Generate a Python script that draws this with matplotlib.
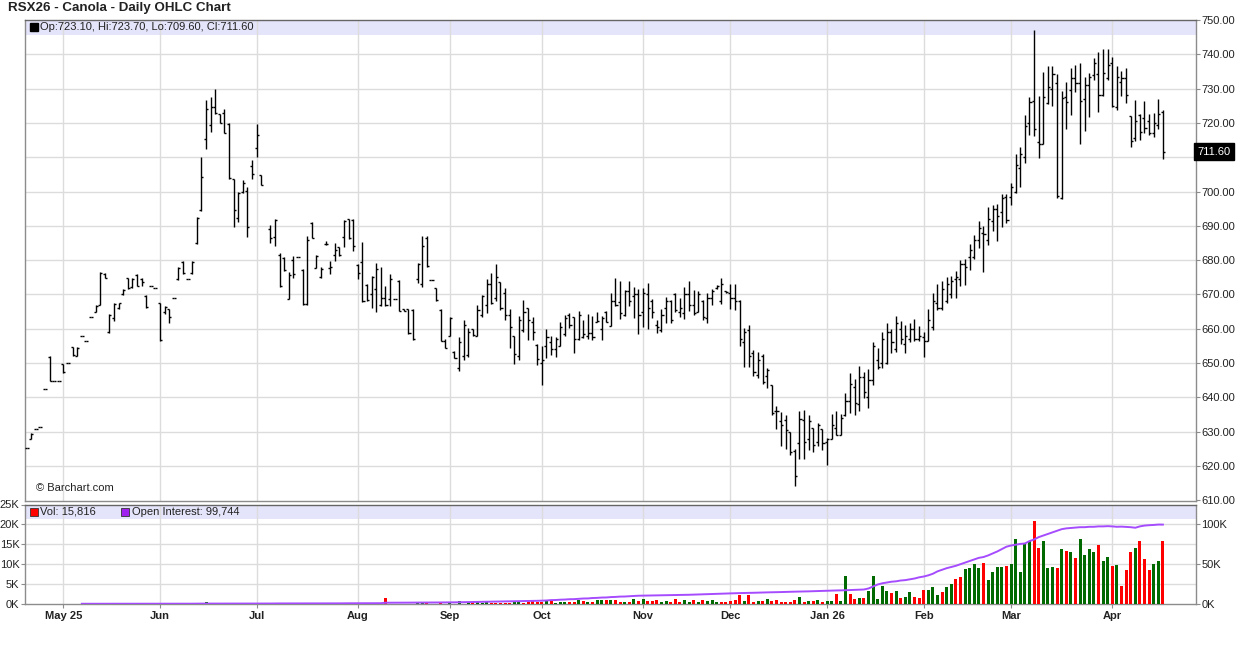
import numpy as np
import pandas as pd
import matplotlib
matplotlib.use("Agg")
import matplotlib.pyplot as plt
import matplotlib.transforms as mtransforms
from matplotlib.collections import LineCollection

"""
RSX26 - Canola - Daily OHLC Chart
Price bars on top, volume bars and open interest line below.
"""

# Trading calendar of the chart (ICE canola, Canadian holidays)
start_day = "2025-04-21"
end_day = "2026-04-17"
holidays = ["2025-05-19", "2025-07-01", "2025-08-04", "2025-09-01", "2025-09-30",
            "2025-10-13", "2025-11-11", "2025-12-25", "2025-12-26", "2026-01-01",
            "2026-02-16", "2026-04-03"]

nan = float("nan")

# Daily prices, one value per trading day
open_ = [
    625.3, 628.0, 630.7, 631.3, 642.4, 651.8, 644.8, 644.8, 649.6, 650.1,
    654.6, 652.2, 657.9, 656.4, 663.3, 665.0, 667.0, 676.0, 659.2, 663.0,
    666.0, 670.0, 674.8, 672.2, 675.8, 674.5, 669.6, 672.4, 671.8, 667.4,
    665.0, 665.8, 668.9, 674.4, 679.5, 674.4, 676.2, 685.0, 694.5, 715.2,
    719.4, 724.7, 722.6, 722.8, 719.8, 703.8, 692.2, 700.0, 700.1, 707.5,
    712.6, 704.8, nan, 689.0, 686.8, 681.5, 680.7, 668.8, 680.0, 680.8,
    677.0, 667.2, 690.7, 677.8, 675.0, 684.6, 677.8, 681.5, 683.8, 686.7,
    692.0, 691.6, 678.5, 679.5, 672.8, 670.0, 671.5, 667.0, 669.0, 668.6,
    668.6, 674.0, 665.8, 665.7, 665.6, 674.5, 673.0, 686.5, 674.2, 672.0,
    665.5, 656.5, 658.0, 653.3, 648.5, 652.0, 652.5, 660.0, 658.0, 664.0,
    667.0, 673.0, 669.0, 673.5, 670.5, 664.0, 657.8, 652.0, 659.5, 666.0,
    662.0, 655.3, 650.0, 655.0, 656.0, 654.0, 655.0, 658.5, 664.0, 663.5,
    657.0, 657.5, 658.0, 658.7, 662.0, 660.0, 665.0, 660.8, 668.0, 667.8,
    664.0, 671.0, 669.5, 670.0, 665.0, 670.0, 668.0, 661.0, 659.5, 666.0,
    668.0, 670.0, 665.0, 664.5, 670.0, 667.0, 665.0, 668.0, 663.0, 669.0,
    672.0, 668.0, 671.0, 670.5, 669.0, 668.0, 656.0, 659.5, 653.0, 646.5,
    652.0, 646.3, 643.5, 636.0, 633.0, 633.5, 630.0, 624.5, 626.8, 633.5,
    628.0, 631.0, 627.0, 630.8, 627.0, 628.0, 631.0, 629.0, 635.0, 639.0,
    643.0, 638.0, 646.0, 640.0, 645.0, 651.0, 650.0, 650.0, 659.0, 654.0,
    660.0, 655.5, 657.0, 660.0, 657.0, 657.5, 656.5, 660.5, 667.5, 666.0,
    668.0, 670.0, 674.5, 674.5, 679.0, 681.0, 681.0, 686.0, 688.0, 686.0,
    691.5, 695.0, 694.0, 698.5, 698.4, 700.0, 707.0, 710.0, 720.0, 726.3,
    714.5, 714.0, 725.7, 729.8, 731.7, 698.0, 727.5, 729.5, 733.0, 731.5,
    727.0, 731.0, 734.0, 734.2, 728.0, 733.0, 737.5, 724.5, 732.0, 733.0,
    722.0, 715.5, 722.3, 721.5, 720.5, 717.0, 719.5, 723.1,
]
high = [
    625.3, 629.6, 630.7, 631.3, 642.4, 652.0, 644.8, 644.8, 649.6, 650.1,
    654.8, 654.8, 657.9, 656.4, 663.3, 666.9, 676.6, 676.2, 664.3, 667.6,
    667.6, 671.6, 674.9, 674.9, 676.0, 674.7, 669.8, 672.4, 671.8, 667.6,
    666.6, 665.9, 668.9, 678.1, 679.7, 674.4, 679.7, 692.5, 710.0, 726.7,
    727.5, 729.8, 722.6, 724.0, 719.9, 703.8, 699.9, 703.4, 701.2, 709.2,
    719.7, 704.8, nan, 690.2, 692.0, 682.2, 680.8, 676.5, 681.3, 680.8,
    677.4, 686.9, 691.0, 681.6, 677.9, 685.6, 679.8, 685.1, 683.9, 691.7,
    692.1, 691.9, 678.8, 685.3, 673.0, 675.4, 679.3, 678.0, 672.5, 676.1,
    668.6, 674.2, 665.8, 665.7, 665.7, 679.3, 686.9, 686.9, 674.2, 672.0,
    665.7, 657.0, 663.3, 653.4, 657.6, 662.6, 660.1, 660.0, 666.9, 669.9,
    674.4, 676.3, 679.0, 673.6, 671.8, 665.9, 658.0, 663.7, 668.4, 666.2,
    663.3, 655.7, 654.9, 660.0, 657.8, 657.5, 662.0, 664.0, 664.7, 663.5,
    665.1, 662.7, 664.2, 663.7, 664.9, 663.7, 665.1, 670.5, 674.9, 673.9,
    671.3, 673.9, 672.2, 671.5, 671.8, 673.2, 668.7, 662.7, 665.8, 669.3,
    668.5, 670.3, 669.0, 672.2, 673.9, 671.3, 671.0, 668.5, 670.5, 671.5,
    672.9, 674.9, 671.0, 673.0, 673.0, 668.5, 660.3, 661.0, 653.9, 653.2,
    652.6, 648.5, 643.5, 637.5, 635.7, 634.9, 630.0, 625.1, 636.0, 636.3,
    634.9, 631.2, 632.4, 630.9, 628.2, 635.1, 636.0, 635.1, 641.2, 647.2,
    645.3, 649.2, 647.4, 648.2, 656.0, 654.5, 659.1, 661.8, 659.9, 663.6,
    662.3, 661.0, 661.6, 662.8, 660.9, 659.1, 665.7, 670.4, 673.0, 674.0,
    675.0, 675.3, 676.8, 680.1, 680.4, 684.6, 687.2, 691.4, 689.9, 695.5,
    696.0, 696.5, 699.4, 699.2, 702.5, 710.8, 713.0, 722.2, 727.6, 747.0,
    727.8, 734.8, 736.6, 736.6, 734.2, 729.3, 731.8, 736.1, 736.9, 737.4,
    733.3, 734.5, 738.8, 740.6, 741.6, 741.6, 739.3, 736.7, 735.0, 735.9,
    722.1, 726.7, 722.5, 726.4, 722.5, 722.8, 727.0, 723.7,
]
low = [
    625.3, 627.8, 630.7, 631.3, 642.4, 644.8, 644.8, 644.8, 647.2, 650.1,
    652.0, 652.2, 657.9, 656.4, 663.3, 664.8, 666.9, 674.7, 658.9, 662.3,
    665.8, 669.8, 671.7, 672.0, 672.4, 672.5, 666.2, 672.4, 671.8, 656.5,
    664.4, 661.8, 668.9, 674.2, 676.0, 674.4, 676.0, 684.6, 694.3, 712.4,
    717.3, 722.6, 719.9, 717.0, 703.8, 689.7, 691.2, 699.5, 686.8, 703.8,
    710.0, 701.8, nan, 685.1, 684.2, 672.3, 676.9, 668.6, 674.9, 680.8,
    666.9, 666.9, 686.4, 677.6, 674.7, 684.5, 675.9, 679.8, 681.3, 683.7,
    686.3, 682.7, 674.5, 667.9, 668.2, 666.2, 665.0, 666.7, 666.7, 666.7,
    668.6, 665.1, 665.2, 658.6, 656.8, 673.3, 672.3, 677.9, 674.2, 668.2,
    656.3, 654.3, 657.8, 651.4, 647.8, 650.9, 651.7, 658.0, 657.8, 663.3,
    664.7, 667.2, 668.2, 665.5, 662.5, 654.4, 649.7, 650.9, 659.0, 656.8,
    656.8, 649.5, 643.5, 651.4, 652.4, 651.9, 654.9, 658.0, 660.3, 652.9,
    656.7, 657.3, 657.1, 656.8, 661.9, 656.7, 661.9, 660.7, 666.6, 662.9,
    663.7, 666.6, 663.2, 658.6, 660.6, 660.0, 663.2, 658.8, 659.0, 661.7,
    661.7, 664.8, 663.5, 662.9, 665.1, 663.9, 664.8, 662.7, 661.7, 666.8,
    671.5, 667.1, 670.5, 665.8, 665.6, 654.9, 648.9, 648.9, 646.1, 645.7,
    643.8, 642.6, 634.9, 630.9, 625.8, 625.0, 623.2, 614.1, 622.1, 622.1,
    624.6, 624.1, 625.8, 624.6, 620.4, 628.0, 628.9, 628.9, 634.6, 635.5,
    634.9, 636.0, 639.9, 637.0, 643.5, 648.2, 648.7, 649.7, 652.9, 653.3,
    655.5, 653.0, 656.0, 656.5, 656.5, 651.9, 656.5, 659.7, 665.4, 665.6,
    667.5, 669.1, 669.1, 672.4, 672.7, 677.0, 680.4, 683.6, 676.5, 684.3,
    688.5, 685.6, 689.7, 690.8, 696.0, 699.6, 701.3, 708.3, 716.4, 716.1,
    709.9, 713.9, 725.4, 724.8, 698.0, 697.9, 718.3, 722.3, 729.1, 713.8,
    717.7, 721.6, 732.5, 723.3, 727.9, 732.5, 724.5, 723.8, 727.9, 725.9,
    713.1, 714.8, 715.0, 717.0, 716.5, 716.0, 718.3, 709.6,
]
close = [
    625.3, 629.4, 630.7, 631.3, 642.4, 644.8, 644.8, 644.8, 647.5, 650.1,
    652.3, 654.5, 657.9, 656.4, 663.3, 666.7, 676.4, 674.8, 664.0, 667.2,
    667.4, 671.4, 672.0, 674.6, 672.6, 673.5, 666.4, 672.4, 671.8, 656.8,
    666.3, 663.5, 668.9, 677.8, 676.3, 674.4, 679.4, 692.2, 704.3, 724.0,
    724.5, 722.8, 720.1, 717.2, 704.0, 694.5, 699.6, 702.5, 689.8, 705.0,
    716.4, 701.8, nan, 686.5, 691.7, 672.5, 677.0, 675.8, 676.0, 680.8,
    667.2, 686.0, 686.6, 681.3, 677.5, 684.6, 678.0, 683.0, 681.4, 691.3,
    686.5, 684.0, 676.4, 668.2, 668.5, 675.0, 677.5, 669.0, 667.0, 674.5,
    668.6, 665.3, 665.2, 658.8, 657.0, 679.0, 684.0, 678.2, 674.2, 668.5,
    656.5, 654.5, 663.0, 651.5, 656.0, 661.0, 659.0, 658.3, 665.5, 669.5,
    673.0, 667.5, 675.0, 666.0, 664.0, 660.5, 652.7, 662.5, 665.0, 662.5,
    659.0, 651.2, 651.0, 657.5, 654.0, 657.0, 660.5, 663.0, 661.0, 657.0,
    664.0, 658.5, 658.7, 657.5, 662.3, 663.0, 662.0, 668.0, 667.0, 664.5,
    671.0, 668.0, 670.0, 664.0, 670.5, 666.0, 665.0, 660.5, 664.0, 668.0,
    662.5, 665.5, 666.0, 670.0, 667.0, 664.5, 670.0, 663.5, 669.0, 671.0,
    672.5, 673.0, 670.6, 669.0, 668.0, 657.0, 659.0, 652.0, 647.5, 651.0,
    644.5, 648.0, 635.5, 636.0, 632.0, 630.5, 624.0, 617.0, 633.6, 627.0,
    633.0, 626.0, 632.0, 626.6, 628.0, 632.0, 629.0, 634.0, 639.0, 644.0,
    638.5, 646.0, 641.5, 645.0, 655.0, 649.0, 657.0, 659.0, 656.0, 661.8,
    657.0, 658.0, 660.0, 657.0, 658.0, 656.5, 662.5, 668.0, 666.0, 671.5,
    673.0, 674.0, 675.0, 679.0, 678.0, 683.0, 686.0, 689.5, 687.5, 692.0,
    695.0, 693.0, 698.0, 691.6, 701.3, 707.6, 711.0, 719.0, 726.0, 718.3,
    714.0, 727.5, 730.4, 734.2, 698.6, 727.4, 726.0, 733.0, 731.5, 726.5,
    731.0, 733.5, 737.5, 728.0, 734.5, 737.0, 725.0, 733.5, 733.0, 728.0,
    714.8, 720.5, 717.5, 718.5, 717.0, 720.0, 722.7, 711.6,
]

# Daily volume in thousands of contracts
volume_k = [
    0, 0, 0, 0, 0, 0, 0, 0, 0, 0,
    0, 0, 0, 0, 0, 0, 0, 0, 0, 0,
    0.3, 0, 0, 0.3, 0, 0, 0, 0, 0, 0,
    0, 0, 0, 0, 0, 0, 0, 0.3, 0.3, 0.5,
    0.3, 0, 0.3, 0, 0, 0.2, 0.3, 0, 0.3, 0,
    0, 0, 0, 0, 0.3, 0, 0, 0, 0, 0,
    0, 0, 0, 0, 0, 0, 0, 0, 0, 0,
    0.3, 0, 0, 0, 0, 0, 0, 0, 1.5, 0,
    0, 0, 0, 0, 0, 0.3, 0.3, 0.3, 0, 0,
    0.3, 0, 0.3, 0, 0.7, 0, 0.3, 0.5, 0.5, 0.3,
    0.5, 0.3, 0.3, 0.3, 0.3, 0.3, 0.5, 0.5, 0.3, 0.5,
    0.8, 0.5, 0.5, 1.0, 0.8, 0.3, 0.5, 0.5, 0.5, 0.5,
    0.9, 0.8, 0.5, 0.5, 0.9, 0.9, 0.9, 1.0, 1.0, 0.6,
    0.6, 0.6, 1.3, 0.8, 1.3, 0.8, 0.8, 1.0, 0.6, 0.8,
    0.4, 1.3, 0.6, 1.0, 0.6, 1.0, 0.6, 1.0, 0.8, 1.0,
    0.6, 0.6, 0.6, 0.8, 1.0, 2.3, 0.8, 2.3, 0.6, 0.8,
    0.8, 1.2, 0.8, 1.0, 0.6, 0.6, 0.6, 1.0, 1.8, 0.6,
    0.8, 0.8, 1.0, 0.6, 0.8, 0.8, 2.5, 0.8, 7.0, 2.5,
    1.3, 1.4, 1.4, 3.3, 7.0, 1.3, 4.5, 3.3, 2.7, 3.3,
    1.6, 1.8, 3.0, 1.7, 1.4, 3.5, 3.5, 4.3, 2.3, 3.0,
    4.3, 5.0, 6.4, 6.9, 8.8, 9.1, 10.0, 9.1, 10.3, 6.0,
    8.0, 9.3, 9.3, 9.6, 10.0, 16.3, 8.1, 15.1, 15.8, 20.8,
    14.1, 15.8, 9.1, 9.4, 9.1, 13.8, 13.3, 13.0, 11.5, 16.3,
    12.3, 13.8, 13.0, 14.8, 10.8, 11.8, 9.6, 9.8, 4.5, 8.5,
    13.0, 14.0, 15.8, 11.3, 8.5, 10.0, 10.8, 15.816,
]

# Volume bar colour as shown on the chart: u = up day, d = down day
volume_dir = (
    "dddddddddd" "dddddddddd" "uddudddddd" "ddddddduuu" "dddddduddd"
    "dddduddddd" "dddddddddd" "dddddddddd" "ddddduuddd" "ddudududuu"
    "uddddduudd" "ddduduuudd" "ududuududd" "udududdduu" "ddduududuu"
    "uddddduddu" "duddddddud" "ududuuduud" "duduuuuudu" "duuddduuud"
    "uudduuuudu" "uuuduuuuud" "duuudududu" "uuuduududd" "duddduud"
)

# Open interest in thousands of contracts
open_interest_k = [
    nan, nan, nan, nan, nan, nan, nan, nan, nan, nan,
    nan, nan, 0.3, 0.3, 0.3, 0.3, 0.3, 0.3, 0.3, 0.3,
    0.3, 0.3, 0.3, 0.3, 0.4, 0.4, 0.4, 0.4, 0.4, 0.4,
    0.4, 0.4, 0.4, 0.4, 0.4, 0.4, 0.4, 0.5, 0.5, 0.5,
    0.5, 0.5, 0.5, 0.5, 0.5, 0.5, 0.6, 0.6, 0.6, 0.6,
    0.6, 0.6, 0.6, 0.6, 0.7, 0.7, 0.7, 0.7, 0.7, 0.7,
    0.7, 0.8, 0.8, 0.8, 0.8, 0.8, 0.8, 0.8, 0.8, 0.9,
    0.9, 0.9, 0.9, 0.9, 0.9, 1.0, 1.0, 1.0, 1.6, 1.6,
    1.6, 1.7, 1.7, 1.7, 1.8, 1.8, 1.8, 1.9, 1.9, 1.9,
    2.0, 2.0, 2.0, 2.1, 2.2, 2.3, 2.4, 2.5, 2.6, 2.7,
    2.8, 2.9, 3.0, 3.1, 3.2, 3.3, 3.4, 3.5, 3.6, 3.8,
    3.9, 4.0, 4.2, 4.4, 4.9, 5.0, 5.4, 5.6, 6.0, 6.1,
    6.5, 6.9, 7.0, 7.5, 7.7, 8.1, 8.2, 8.7, 8.9, 9.3,
    9.4, 9.8, 10.1, 10.4, 10.5, 10.6, 10.6, 10.7, 10.8, 10.9,
    11.0, 11.1, 11.3, 11.4, 11.6, 11.8, 12.0, 12.2, 12.4, 12.6,
    12.8, 13.0, 13.2, 13.4, 13.5, 13.7, 13.8, 14.0, 14.1, 14.3,
    14.4, 14.6, 14.7, 14.9, 15.0, 15.2, 15.3, 15.5, 15.6, 15.8,
    15.9, 16.1, 16.3, 16.5, 16.7, 16.8, 17.0, 17.1, 17.3, 17.5,
    17.7, 17.9, 18.2, 19.5, 22.0, 24.5, 26.0, 27.0, 28.0, 28.5,
    29.5, 30.0, 31.0, 32.0, 33.5, 34.5, 36.0, 38.0, 41.0, 43.0,
    45.0, 46.5, 48.0, 50.0, 52.0, 54.0, 56.0, 58.0, 59.0, 61.0,
    63.5, 66.0, 69.0, 72.0, 73.5, 74.5, 75.5, 76.0, 79.0, 81.0,
    84.0, 86.0, 88.0, 90.0, 92.0, 94.0, 95.0, 95.5, 96.0, 96.5,
    96.5, 97.0, 97.0, 97.5, 97.5, 97.8, 97.5, 97.0, 97.2, 96.8,
    96.5, 95.8, 97.5, 98.5, 99.0, 99.3, 99.8, 99.744,
]

title = "RSX26 - Canola - Daily OHLC Chart"
price_ticks = list(range(610, 751, 10))
vol_ticks = [0, 5, 10, 15, 20, 25]
oi_ticks = [0, 50, 100]

GRID = "#dcdcdc"
FRAME = "#8c8c8c"
BAND = "#e4e4fa"
TEXT = "#222222"
UP = "#006a00"
DOWN = "#ff0000"
OI_COLOR = "#a64cff"
FS = 8


def month_starts(dates):
    """Index of the first trading day of each month and its label."""
    idx, labels = [], []
    for i in range(1, len(dates)):
        if dates[i].month != dates[i - 1].month:
            d = dates[i]
            idx.append(i)
            if d.month in (1, 5):
                labels.append(d.strftime("%b %y"))
            else:
                labels.append(d.strftime("%b"))
    return idx, labels


def main():
    plt.rcParams['font.family'] = ['Liberation Sans', 'DejaVu Sans']

    dates = pd.bdate_range(start_day, end_day, freq="C", holidays=holidays)
    o = np.array(open_, dtype=float)
    h = np.array(high, dtype=float)
    lo = np.array(low, dtype=float)
    c = np.array(close, dtype=float)
    n = len(c)
    x = np.arange(n)
    ticks_x, tick_labels = month_starts(dates[:n])

    W, H = 1236, 645
    fig = plt.figure(figsize=(W / 100, H / 100), dpi=100)
    fig.patch.set_facecolor("white")

    def frac(left, top, right, bottom):
        return [left / W, 1 - bottom / H, (right - left) / W, (bottom - top) / H]

    def ax_x(px):
        # horizontal pixel -> axes fraction of the panels
        return (px - 25) / (1196 - 25)

    ax = fig.add_axes(frac(25, 20, 1196, 501))
    axv = fig.add_axes(frac(25, 504.5, 1196, 604), sharex=ax)

    xmin, xmax = -0.35, 254.2

    # ---- price panel ----
    ax.set_xlim(xmin, xmax)
    ax.set_ylim(609.8, 750)
    ax.axhspan(745.6, 750, color=BAND, zorder=0, lw=0)
    for t in price_ticks[1:-1]:
        ax.axhline(t, color=GRID, lw=1.0, zorder=1)
    for t in ticks_x:
        ax.axvline(t, color=GRID, lw=1.0, zorder=1)

    segs = []
    for i in x:
        if np.isnan(c[i]):
            continue
        segs.append([(i, lo[i]), (i, h[i])])
        segs.append([(i - 0.45, o[i]), (i, o[i])])
        segs.append([(i, c[i]), (i + 0.45, c[i])])
    ax.add_collection(LineCollection(segs, colors="black", linewidths=1.0, zorder=3))

    ax.yaxis.tick_right()
    ax.set_yticks(price_ticks)
    ax.set_yticklabels([f"{t:.2f}" for t in price_ticks])
    ax.tick_params(axis="y", length=3, width=0.8, color=FRAME, labelsize=FS,
                   labelcolor=TEXT, pad=1)
    ax.tick_params(axis="x", length=0, labelbottom=False)
    for s in ax.spines.values():
        s.set_color(FRAME)
        s.set_linewidth(1.0)
    ax.spines["top"].set_color("#666666")

    # last price marker on the right axis (covers the nearby tick label)
    trans = mtransforms.blended_transform_factory(ax.transAxes, ax.transData)
    ax.text(1.0015, c[-1], f"{c[-1]:.2f}", transform=trans, color="white",
            fontsize=FS, va="center", ha="left", zorder=6,
            bbox=dict(boxstyle="square,pad=0.32", fc="black", ec="black"))

    # header with last bar values
    ax.plot([ax_x(33.5)], [0.9845], marker="s", ms=5.5, color="black",
            transform=ax.transAxes, clip_on=False, zorder=5)
    ax.text(ax_x(40.5), 0.9845,
            f"Op:{o[-1]:.2f}, Hi:{h[-1]:.2f}, Lo:{lo[-1]:.2f}, Cl:{c[-1]:.2f}",
            transform=ax.transAxes, fontsize=FS, color=TEXT, va="center", zorder=5)
    ax.text(ax_x(36), 0.027, "\u00a9 Barchart.com", transform=ax.transAxes,
            fontsize=FS, color=TEXT, va="center", zorder=5)

    fig.text(8 / W, 1 - 8 / H, title, fontsize=9.6, fontweight="bold",
             color=TEXT, va="center", ha="left")

    # ---- volume panel ----
    axv.set_ylim(0, 25)
    axv.axhspan(21.45, 25, color=BAND, zorder=0, lw=0)
    for t in vol_ticks[1:-1]:
        axv.axhline(t, color=GRID, lw=1.0, zorder=1)
    for t in ticks_x:
        axv.axvline(t, color=GRID, lw=1.0, zorder=1)

    vol = np.array(volume_k, dtype=float)
    colors = [UP if d == "u" else DOWN for d in volume_dir[:n]]
    axv.bar(x, vol, width=0.66, color=colors, zorder=3, linewidth=0)

    axv.set_yticks(vol_ticks)
    axv.set_yticklabels([f"{t}K" for t in vol_ticks])
    axv.tick_params(axis="y", length=3, width=0.8, color=FRAME, labelsize=FS,
                    labelcolor=TEXT, pad=1)
    axv.set_xticks(ticks_x)
    axv.set_xticklabels(tick_labels, fontweight="bold")
    axv.tick_params(axis="x", length=3, width=0.8, color=FRAME, labelsize=FS,
                    labelcolor=TEXT, pad=2)
    for s in axv.spines.values():
        s.set_color(FRAME)
        s.set_linewidth(1.0)
    axv.spines["top"].set_color("#666666")

    # open interest on its own scale (100K lines up with 20K volume)
    axo = axv.twinx()
    axo.set_ylim(0, 125)
    axo.plot(x, np.array(open_interest_k, dtype=float), color=OI_COLOR,
             lw=1.4, zorder=4)
    axo.set_yticks(oi_ticks)
    axo.set_yticklabels([f"{t}K" for t in oi_ticks])
    axo.tick_params(axis="y", length=3, width=0.8, color=FRAME, labelsize=FS,
                    labelcolor=TEXT, pad=1)
    for s in axo.spines.values():
        s.set_visible(False)
    axv.set_xlim(xmin, xmax)

    # legend header of the lower panel
    axv.plot([ax_x(33.5)], [0.928], marker="s", ms=5.5, color=DOWN, mec="#333333",
             mew=0.6, transform=axv.transAxes, clip_on=False, zorder=5)
    axv.text(ax_x(40.5), 0.928, f"Vol: {volume_k[-1] * 1000:,.0f}",
             transform=axv.transAxes, fontsize=FS, color=TEXT, va="center", zorder=5)
    axv.plot([ax_x(125)], [0.928], marker="s", ms=5.5, color="#a020f0",
             mec="#333333", mew=0.6, transform=axv.transAxes, clip_on=False, zorder=5)
    axv.text(ax_x(132.5), 0.928, f"Open Interest: {open_interest_k[-1] * 1000:,.0f}",
             transform=axv.transAxes, fontsize=FS, color=TEXT, va="center", zorder=5)

    fig.savefig("out.png", dpi=100, facecolor="white")


if __name__ == '__main__':
    main()
